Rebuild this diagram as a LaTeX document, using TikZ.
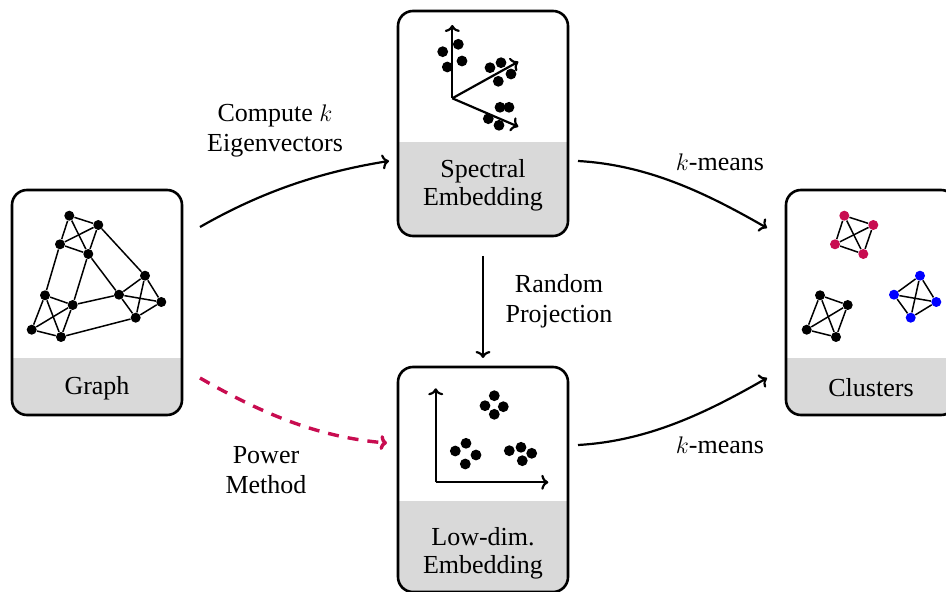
\documentclass[tikz,border=0pt]{standalone}
\usepackage{fontspec}
\setmainfont{Liberation Serif}
\usetikzlibrary{arrows.meta}
\definecolor{myred}{RGB}{200,12,80}
\definecolor{bandgray}{RGB}{217,217,217}
\begin{document}
\begin{tikzpicture}[x=0.5pt,y=-0.5pt,
  box/.style={draw, line width=1.3pt, rounded corners=7.5pt, minimum width=85pt, minimum height=112.5pt, inner sep=0pt},
  grayband/.style={path picture={\fill[bandgray, sharp corners] (path picture bounding box.south west) rectangle ([yshift=#1]path picture bounding box.south east);}},
  dot/.style={circle, fill, inner sep=0pt, minimum size=5pt},
  bigdot/.style={dot, minimum size=5.4pt},
  gedge/.style={line width=0.75pt},
  axisline/.style={line width=1.1pt, -{To[length=3.5pt,width=7.5pt]}},
  conn/.style={line width=1.1pt, -{To[length=3.5pt,width=7.5pt]}},
  dconn/.style={line width=1.7pt, myred, dash pattern=on 5.5pt off 4.5pt, -{To[length=3.5pt,width=7.5pt]}},
  lbl/.style={font=\fontsize{13}{15}\selectfont, align=center, inner sep=0pt},
  boxlbl/.style={font=\fontsize{13}{14}\selectfont, align=center, inner sep=0pt},
]
\useasboundingbox (0,0) rectangle (946,592);

% boxes
\node[box, grayband=28.5pt] (graph) at (97,302.5) {};
\node[box, grayband=47pt] (spec) at (483,123.5) {};
\node[box, grayband=45.5pt] (low) at (483,479.5) {};
\node[box, grayband=28.5pt] (clus) at (871,302.5) {};

\node[boxlbl] (graphlbl) at (97,388) {Graph};
\node[boxlbl] (speclbl) at (483,185.5) {Spectral\\Embedding};
\node[boxlbl] (lowlbl) at (483,553.5) {Low-dim.\\Embedding};
\node[boxlbl] (cluslbl) at (871,388) {Clusters};

% graph
\foreach \n/\p in {A/{(69.3,215.7)}, B/{(98.3,225)}, C/{(60,244.3)}, D/{(88.3,254)},
                   E/{(145,275.7)}, G/{(119,294.7)}, I/{(161.3,302)}, K/{(135.7,317.7)},
                   F/{(45,295.3)}, H/{(72.7,305)}, J/{(31.7,329.7)}, L/{(61,337)}}
  \node[dot] (g\n) at \p {};
\foreach \a/\b in {A/B,A/C,A/D,B/C,B/D,C/D, E/G,E/I,E/K,G/I,G/K,I/K, F/H,F/J,F/L,H/J,H/L,J/L,
                   C/F,D/H,B/E,D/G,H/G,L/K}
  \draw[gedge] (g\a) -- (g\b);

% clusters
\begin{scope}[shift={(775,0)}]
\foreach \n/\p in {A/{(69.3,215.7)}, B/{(98.3,225)}, C/{(60,244.3)}, D/{(88.3,254)}}
  \node[dot, fill=myred] (c\n) at \p {};
\foreach \n/\p in {E/{(145,275.7)}, G/{(119,294.7)}, I/{(161.3,302)}, K/{(135.7,317.7)}}
  \node[dot, fill=blue] (c\n) at \p {};
\foreach \n/\p in {F/{(45,295.3)}, H/{(72.7,305)}, J/{(31.7,329.7)}, L/{(61,337)}}
  \node[dot] (c\n) at \p {};
\end{scope}
\foreach \a/\b in {A/B,A/C,A/D,B/C,B/D,C/D, E/G,E/I,E/K,G/I,G/K,I/K, F/H,F/J,F/L,H/J,H/L,J/L}
  \draw[gedge] (c\a) -- (c\b);

% spectral embedding
\coordinate (so) at (452.3,98.3);
\coordinate (sy) at (452.3,25);
\coordinate (sa) at (518.3,61.7);
\coordinate (sb) at (518.3,126.7);
\draw[axisline] (so) -- (sy);
\draw[axisline] (so) -- (sa);
\draw[axisline] (so) -- (sb);
\foreach \p [count=\i] in {(442.7,51.7),(458.3,44.3),(447.3,67),(462,61),
                           (490,67.7),(501,62.7),(511,74),(498.3,81.3),
                           (500,107.3),(509,107.3),(488.3,118.7),(499,125.3)}
  \node[bigdot] (s\i) at \p {};

% low-dim embedding
\coordinate (lo) at (435.7,482.3);
\coordinate (ly) at (435.7,388.3);
\coordinate (lx) at (548.3,482.3);
\draw[axisline] (lo) -- (ly);
\draw[axisline] (lo) -- (lx);
\foreach \p [count=\i] in {(494.3,395.7),(485,405.7),(503.3,406.7),(494.3,414.3),
                           (466,443.3),(455.3,451),(476,455),(465.3,464),
                           (521,447.3),(509.3,450.7),(531.7,453.3),(522.3,460.7)}
  \node[bigdot] (l\i) at \p {};

% connectors
\coordinate (a1s) at (200,227);
\coordinate (a1e) at (389,161);
\coordinate (a2s) at (578,161);
\coordinate (a2e) at (767,228);
\coordinate (a3s) at (483,256);
\coordinate (a3e) at (483,358);
\coordinate (a4s) at (200,378);
\coordinate (a4e) at (387,443);
\coordinate (a5s) at (578,445);
\coordinate (a5e) at (767,378);

\draw[conn] (a1s) .. controls +(61,-35) and +(-69,11) .. (a1e);
\draw[conn] (a2s) .. controls +(70,4) and +(-61,-35) .. (a2e);
\draw[conn] (a3s) -- (a3e);
\draw[dconn] (a4s) .. controls +(61,35) and +(-70,-6) .. (a4e);
\draw[conn] (a5s) .. controls +(70,-4) and +(-61,35) .. (a5e);

\node[lbl] (l1) at (275,130.5) {Compute $k$\\Eigenvectors};
\node[lbl] (l2) at (720,162) {$k$-means};
\node[lbl] (l3) at (559,301.7) {Random\\Projection};
\node[lbl] (l4) at (266,470.5) {Power\\Method};
\node[lbl] (l5) at (720,445) {$k$-means};
\end{tikzpicture}
\end{document}
